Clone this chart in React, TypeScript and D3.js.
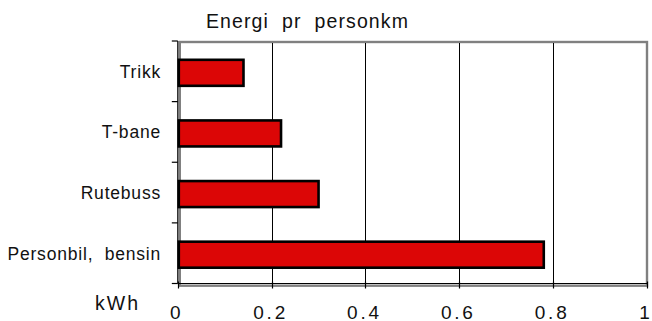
import React from "react";
import * as d3 from "d3";

const categories = ["Trikk", "T-bane", "Rutebuss", "Personbil,  bensin"];
const values = [0.14, 0.22, 0.30, 0.78];
const xTicks = [0, 0.2, 0.4, 0.6, 0.8, 1];
const xTickLabels = ["0", "0.2", "0.4", "0.6", "0.8", "1"];
const title = "Energi  pr  personkm";
const unitLabel = "kWh";

const W = 652;
const H = 321;
const FONT = "'Liberation Sans', Arial, Helvetica, sans-serif";

export default function App() {
  const left = 177.8;
  const right = 647;
  const top = 41;
  const bottom = 283.5;

  const x = d3.scaleLinear().domain([0, 1]).range([left, right]);
  const y = d3
    .scaleBand<string>()
    .domain(categories)
    .range([top, bottom])
    .paddingInner(0.571)
    .paddingOuter(0.2855);
  const step = y.step();
  const barShift = 1.5;

  return (
    <div style={{ position: "fixed", left: 0, top: 0 }}>
      <svg width={W} height={H} style={{ display: "block", background: "#fff" }}>
        {/* gray plot border */}
        <rect
          x={left + 2}
          y={top + 1}
          width={right - left - 2}
          height={bottom - top + 1.2}
          fill="none"
          stroke="#808080"
          strokeWidth={2.4}
        />
        {/* gridlines */}
        {xTicks
          .filter((t) => t > 0 && t < 1)
          .map((t) => (
            <line
              key={"g" + t}
              x1={Math.round(x(t)) + 0.5}
              x2={Math.round(x(t)) + 0.5}
              y1={top + 2}
              y2={bottom}
              stroke="#000"
              strokeWidth={1}
            />
          ))}
        {/* bars */}
        {categories.map((c, i) => (
          <rect
            key={c}
            x={x(0) + 1}
            y={(y(c) as number) + barShift}
            width={x(values[i]) - x(0) - 1}
            height={y.bandwidth()}
            fill="#dc0606"
            stroke="#000"
            strokeWidth={2.6}
          />
        ))}
        {/* axes */}
        <line x1={left} x2={left} y1={top} y2={bottom} stroke="#000" strokeWidth={1.2} />
        <line x1={left} x2={right} y1={bottom} y2={bottom} stroke="#000" strokeWidth={1.2} />
        {d3.range(categories.length + 1).map((i) => (
          <line
            key={"yt" + i}
            x1={left - 6}
            x2={left}
            y1={top + i * step}
            y2={top + i * step}
            stroke="#000"
            strokeWidth={1.2}
          />
        ))}
        {xTicks.map((t) => (
          <line
            key={"xt" + t}
            x1={Math.round(x(t)) + 0.5}
            x2={Math.round(x(t)) + 0.5}
            y1={bottom - 2}
            y2={bottom + 5}
            stroke="#000"
            strokeWidth={1.2}
          />
        ))}
        {/* category labels */}
        {categories.map((c) => (
          <text
            key={"l" + c}
            x={161}
            y={(y(c) as number) + y.bandwidth() / 2 + 6.5}
            textAnchor="end"
            fontFamily={FONT}
            fontSize={17.5}
            letterSpacing={0.8}
            fill="#111"
            style={{ whiteSpace: "pre" }}
          >
            {c}
          </text>
        ))}
        {/* x tick labels */}
        {xTicks.map((t, i) => (
          <text
            key={"xl" + t}
            x={x(t) - 1}
            y={318.5}
            textAnchor="middle"
            fontFamily={FONT}
            fontSize={19}
            letterSpacing={2.8}
            fill="#111"
          >
            {xTickLabels[i]}
          </text>
        ))}
        <text
          x={95}
          y={310}
          fontFamily={FONT}
          fontSize={19.5}
          letterSpacing={2}
          fill="#111"
        >
          {unitLabel}
        </text>
        <text
          x={206}
          y={28.3}
          fontFamily={FONT}
          fontSize={19.5}
          letterSpacing={1.1}
          fill="#111"
          style={{ whiteSpace: "pre" }}
        >
          {title}
        </text>
      </svg>
    </div>
  );
}
